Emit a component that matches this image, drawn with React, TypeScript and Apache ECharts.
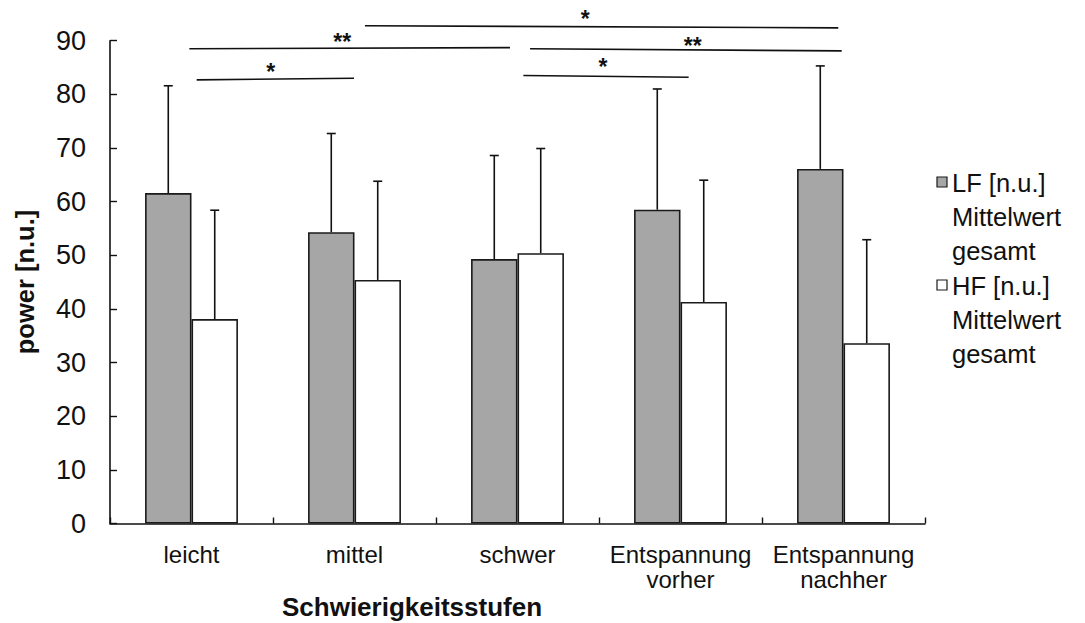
import { useEffect, useRef } from "react";
import * as echarts from "echarts";

// Categories on the x axis (difficulty levels / relaxation phases)
const categories = ["leicht", "mittel", "schwer", "Entspannung\nvorher", "Entspannung\nnachher"];

// LF power (normalised units): mean and standard deviation
const lfMean = [61.6, 54.3, 49.3, 58.5, 66.1];
const lfSd = [20.0, 18.4, 19.3, 22.5, 19.2];

// HF power (normalised units): mean and standard deviation
const hfMean = [38.1, 45.4, 50.4, 41.3, 33.6];
const hfSd = [20.3, 18.4, 19.5, 22.7, 19.3];

// y axis ticks
const yMin = 0;
const yMax = 90;
const yStep = 10;

const seriesNames = ["LF [n.u.] Mittelwert gesamt", "HF [n.u.] Mittelwert gesamt"];

// Significance brackets: x in category units (0 = centre of "leicht"), y in n.u.
const bracketX1 = [0.032, -0.013, 1.064, 2.077, 2.036];
const bracketY1 = [82.7, 88.5, 92.8, 88.5, 83.5];
const bracketX2 = [0.997, 1.954, 3.968, 3.989, 3.05];
const bracketY2 = [83.0, 88.7, 92.4, 88.1, 83.2];
const bracketLabelX = [0.486, 0.925, 2.416, 3.075, 2.525];
const bracketLabelY = [85.3, 90.9, 95.3, 90.3, 86.3];
const bracketLabel = ["*", "**", "*", "**", "*"];

const FONT = "'Liberation Sans', Arial, sans-serif";
const CATEGORY_GAP = 0.43;

function errorBarSeries(means: number[], sds: number[], side: number) {
  return {
    type: "custom",
    silent: true,
    clip: false,
    z: 5,
    encode: { x: 0, y: [1, 2] },
    data: means.map((m, i) => [i, m, m + sds[i]]),
    renderItem: (_params: any, api: any) => {
      const i = api.value(0);
      const base = api.coord([i, api.value(1)]);
      const top = api.coord([i, api.value(2)]);
      const band = api.size([1, 0])[0];
      const barW = (band * (1 - CATEGORY_GAP)) / 2;
      const x = base[0] + (side * barW) / 2;
      const style = { stroke: "#111", lineWidth: 1.6 };
      return {
        type: "group",
        children: [
          { type: "line", shape: { x1: x, y1: base[1], x2: x, y2: top[1] }, style },
          { type: "line", shape: { x1: x - 4.5, y1: top[1], x2: x + 4.5, y2: top[1] }, style },
        ],
      };
    },
  };
}

const bracketSeries = {
  type: "custom",
  silent: true,
  clip: false,
  z: 6,
  encode: { x: 0, y: 1 },
  data: bracketLabel.map(() => [0, 0]),
  renderItem: (params: any, api: any) => {
    const k = params.dataIndex;
    const origin = api.coord([0, 0]);
    const band = api.size([1, 0])[0];
    const px = (cx: number) => origin[0] + cx * band;
    const py = (v: number) => api.coord([0, v])[1];
    return {
      type: "group",
      children: [
        {
          type: "line",
          shape: { x1: px(bracketX1[k]), y1: py(bracketY1[k]), x2: px(bracketX2[k]), y2: py(bracketY2[k]) },
          style: { stroke: "#111", lineWidth: 1.6 },
        },
        {
          type: "text",
          x: px(bracketLabelX[k]),
          y: py(bracketLabelY[k]) - 5,
          style: {
            text: bracketLabel[k],
            fontFamily: FONT,
            fontSize: 23,
            fontWeight: "bold",
            fill: "#111",
            align: "center",
            verticalAlign: "top",
          },
        },
      ],
    };
  },
};

const legendText = (label: string) => `${label}\nMittelwert\ngesamt`;

export default function App() {
  const ref = useRef<HTMLDivElement>(null);

  useEffect(() => {
    if (!ref.current) return;
    const chart = echarts.init(ref.current, undefined, { renderer: "svg" });
    chart.setOption({
      animation: false,
      backgroundColor: "#fff",
      textStyle: { fontFamily: FONT },
      grid: { left: 110, right: 160, top: 40.7, bottom: 99.5, containLabel: false },
      legend: { show: false },
      xAxis: {
        type: "category",
        data: categories,
        axisLine: { show: true, lineStyle: { color: "#111", width: 1.6 } },
        axisTick: { show: true, inside: true, length: 6, lineStyle: { color: "#111", width: 1.4 } },
        axisLabel: {
          interval: 0,
          color: "#111",
          fontFamily: FONT,
          fontSize: 24,
          lineHeight: 25,
          margin: 18,
        },
        splitLine: { show: false },
      },
      yAxis: {
        type: "value",
        min: yMin,
        max: yMax,
        interval: yStep,
        axisLine: { show: true, lineStyle: { color: "#111", width: 1.6 } },
        axisTick: { show: true, inside: true, length: 7, lineStyle: { color: "#111", width: 1.4 } },
        axisLabel: { color: "#111", fontFamily: FONT, fontSize: 27, margin: 24 },
        splitLine: { show: false },
      },
      series: [
        {
          type: "bar",
          name: seriesNames[0],
          data: lfMean,
          barGap: "0%",
          barCategoryGap: `${CATEGORY_GAP * 100}%`,
          itemStyle: { color: "#a6a6a6", borderColor: "#1a1a1a", borderWidth: 1.6 },
        },
        {
          type: "bar",
          name: seriesNames[1],
          data: hfMean,
          barGap: "0%",
          barCategoryGap: `${CATEGORY_GAP * 100}%`,
          itemStyle: { color: "#ffffff", borderColor: "#1a1a1a", borderWidth: 1.6 },
        },
        errorBarSeries(lfMean, lfSd, -1),
        errorBarSeries(hfMean, hfSd, 1),
        bracketSeries,
      ],
      graphic: [
        {
          type: "text",
          x: 25,
          y: 282,
          rotation: Math.PI / 2,
          style: {
            text: "power [n.u.]",
            fontFamily: FONT,
            fontSize: 25.5,
            fontWeight: "bold",
            fill: "#111",
            align: "center",
            verticalAlign: "middle",
          },
        },
        {
          type: "text",
          x: 412,
          y: 607,
          style: {
            text: "Schwierigkeitsstufen",
            fontFamily: FONT,
            fontSize: 26,
            fontWeight: "bold",
            fill: "#111",
            align: "center",
            verticalAlign: "middle",
          },
        },
        {
          type: "rect",
          shape: { x: 937, y: 177, width: 10, height: 10 },
          style: { fill: "#a6a6a6", stroke: "#1a1a1a", lineWidth: 1.2 },
        },
        {
          type: "text",
          x: 952,
          y: 166,
          style: {
            text: legendText("LF [n.u.]"),
            fontFamily: FONT,
            fontSize: 25.5,
            lineHeight: 34,
            fill: "#111",
            align: "left",
            verticalAlign: "top",
          },
        },
        {
          type: "rect",
          shape: { x: 937, y: 280, width: 10, height: 10 },
          style: { fill: "#ffffff", stroke: "#1a1a1a", lineWidth: 1.2 },
        },
        {
          type: "text",
          x: 952,
          y: 269,
          style: {
            text: legendText("HF [n.u.]"),
            fontFamily: FONT,
            fontSize: 25.5,
            lineHeight: 34,
            fill: "#111",
            align: "left",
            verticalAlign: "top",
          },
        },
      ],
    });
    return () => chart.dispose();
  }, []);

  return <div ref={ref} style={{ width: 1085, height: 623, position: "absolute", left: 0, top: 0 }} />;
}
